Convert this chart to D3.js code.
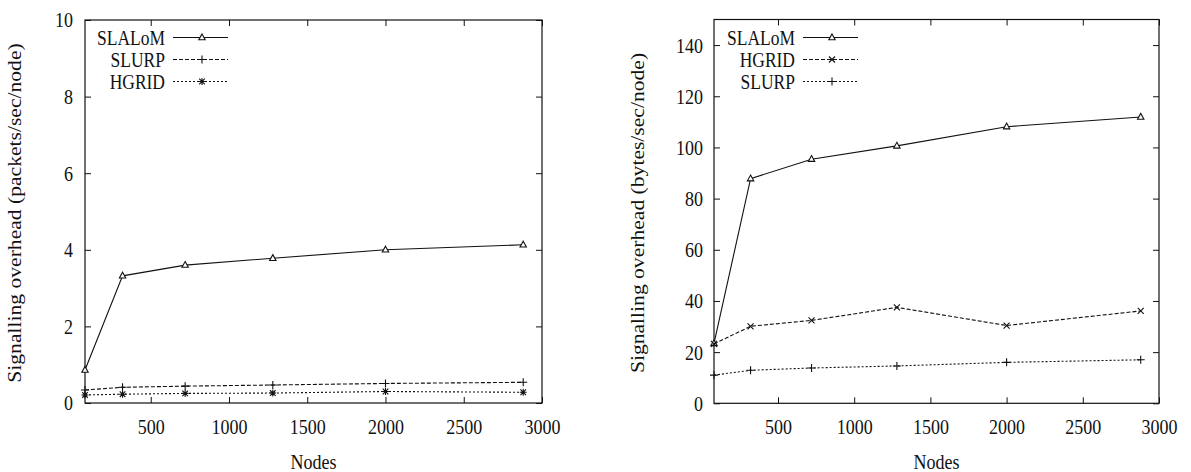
<!DOCTYPE html>
<html>
<head>
<meta charset="utf-8">
<script src="https://cdn.jsdelivr.net/npm/d3@7"></script>
<style>
  body { margin: 0; background: #fff; }
  text { font-family: "Liberation Serif", "Times New Roman", serif; fill: #111; }
</style>
</head>
<body>
<svg id="chart" width="1191" height="472"></svg>
<script>
// node counts (x axis), same for both panels
var nodes = [80, 320, 720, 1280, 2000, 2880];
var xTicks = [500, 1000, 1500, 2000, 2500, 3000];

// left panel: packets/sec/node
var packetsSlalom = [0.86, 3.32, 3.60, 3.78, 4.00, 4.13];
var packetsSlurp  = [0.34, 0.41, 0.44, 0.47, 0.51, 0.54];
var packetsHgrid  = [0.21, 0.23, 0.25, 0.26, 0.30, 0.28];
var packetTicks = [0, 2, 4, 6, 8, 10];

// right panel: bytes/sec/node
var bytesSlalom = [23.4, 87.8, 95.4, 100.6, 108.1, 111.9];
var bytesHgrid  = [23.2, 30.1, 32.4, 37.5, 30.4, 36.1];
var bytesSlurp  = [11.0, 12.9, 13.8, 14.6, 16.0, 17.0];
var byteTicks = [0, 20, 40, 60, 80, 100, 120, 140];

var svg = d3.select("#chart");
var stretch = 1.2;   // the reference text is a bit taller than wide

var markers = {
  triangle: "M0,-3.6L3.2,2.2L-3.2,2.2Z",
  plus: "M-4,0H4M0,-4V4",
  cross: "M-3,-3L3,3M-3,3L3,-3",
  star: "M-3.5,0H3.5M0,-3.5V3.5M-2.8,-2.8L2.8,2.8M-2.8,2.8L2.8,-2.8"
};

function drawMarker(g, type, cx, cy) {
  g.append("path")
    .attr("d", markers[type])
    .attr("transform", "translate(" + cx + "," + cy + ")")
    .attr("fill", type == "triangle" ? "#fff" : "none")
    .attr("stroke", "#111")
    .attr("stroke-width", 1.1);
}

function drawPanel(p) {
  var g = svg.append("g");
  var x = d3.scaleLinear().domain([80, 3000]).range([p.left, p.right]);
  var y = d3.scaleLinear().domain([0, p.yMax]).range([p.bottom, p.top]);

  var bottomAxis = g.append("g")
    .attr("transform", "translate(0," + p.bottom + ")")
    .call(d3.axisBottom(x).tickValues(xTicks).tickFormat(d3.format("d"))
      .tickSizeInner(-6).tickSizeOuter(0));
  bottomAxis.selectAll("text")
    .attr("y", 25.8).attr("dy", null)
    .attr("transform", "scale(1," + stretch + ")");

  var leftAxis = g.append("g")
    .attr("transform", "translate(" + p.left + ",0)")
    .call(d3.axisLeft(y).tickValues(p.yTicks).tickFormat(d3.format("d"))
      .tickSizeInner(-6).tickSizeOuter(0).tickPadding(p.pad));
  leftAxis.selectAll("text")
    .attr("transform", "scale(1," + stretch + ")");

  // mirrored ticks, gnuplot style
  g.append("g")
    .attr("transform", "translate(0," + p.top + ")")
    .call(d3.axisTop(x).tickValues(xTicks).tickSizeInner(-6).tickSizeOuter(0).tickFormat(""));
  g.append("g")
    .attr("transform", "translate(" + p.right + ",0)")
    .call(d3.axisRight(y).tickValues(p.yTicks).tickSizeInner(-6).tickSizeOuter(0).tickFormat(""));

  g.selectAll(".domain").remove();
  g.selectAll(".tick line").attr("stroke", "#111");
  g.selectAll(".tick text").attr("font-size", 18).attr("fill", "#111")
    .attr("font-family", "Liberation Serif, serif");

  g.append("rect")
    .attr("x", p.left).attr("y", p.top)
    .attr("width", p.right - p.left).attr("height", p.bottom - p.top)
    .attr("fill", "none").attr("stroke", "#111").attr("stroke-width", 1.2);

  var line = d3.line()
    .x(function(d, i) { return x(nodes[i]); })
    .y(function(d) { return y(d); });

  p.series.forEach(function(s, k) {
    g.append("path")
      .attr("d", line(s.values))
      .attr("fill", "none")
      .attr("stroke", "#111")
      .attr("stroke-width", 1.1)
      .attr("stroke-dasharray", s.dash);
    s.values.forEach(function(v, i) {
      drawMarker(g, s.marker, x(nodes[i]), y(v));
    });

    // legend row
    var ly = 37.5 + k * 22;
    g.append("text")
      .attr("transform", "translate(" + p.legendX + "," + (ly + 7.3) + ") scale(1," + stretch + ")")
      .attr("text-anchor", "end")
      .attr("font-size", 17.5)
      .text(s.name);
    g.append("line")
      .attr("x1", p.legendX + 8).attr("x2", p.legendX + 63)
      .attr("y1", ly).attr("y2", ly)
      .attr("stroke", "#111").attr("stroke-width", 1.1)
      .attr("stroke-dasharray", s.dash);
    drawMarker(g, s.marker, p.legendX + 37, ly);
  });

  g.append("text")
    .attr("transform", "translate(" + p.titleX + ",213) rotate(-90) scale(" + stretch + ",1)")
    .attr("text-anchor", "middle")
    .attr("font-size", 18)
    .text(p.yTitle);

  g.append("text")
    .attr("transform", "translate(" + ((p.left + p.right) / 2) + ",469) scale(1," + stretch + ")")
    .attr("text-anchor", "middle")
    .attr("font-size", 18)
    .text("Nodes");
}

drawPanel({
  left: 85, right: 542, top: 20, bottom: 403,
  yMax: 10, yTicks: packetTicks, pad: 12,
  yTitle: "Signalling overhead (packets/sec/node)", titleX: 21,
  legendX: 165,
  series: [
    { name: "SLALoM", values: packetsSlalom, dash: null, marker: "triangle" },
    { name: "SLURP", values: packetsSlurp, dash: "4,2", marker: "plus" },
    { name: "HGRID", values: packetsHgrid, dash: "2,2", marker: "star" }
  ]
});

drawPanel({
  left: 714, right: 1159, top: 19.5, bottom: 403.3,
  yMax: 150, yTicks: byteTicks, pad: 11,
  yTitle: "Signalling overhead (bytes/sec/node)", titleX: 644,
  legendX: 795,
  series: [
    { name: "SLALoM", values: bytesSlalom, dash: null, marker: "triangle" },
    { name: "HGRID", values: bytesHgrid, dash: "4,2", marker: "cross" },
    { name: "SLURP", values: bytesSlurp, dash: "2,2", marker: "plus" }
  ]
});
</script>
</body>
</html>
